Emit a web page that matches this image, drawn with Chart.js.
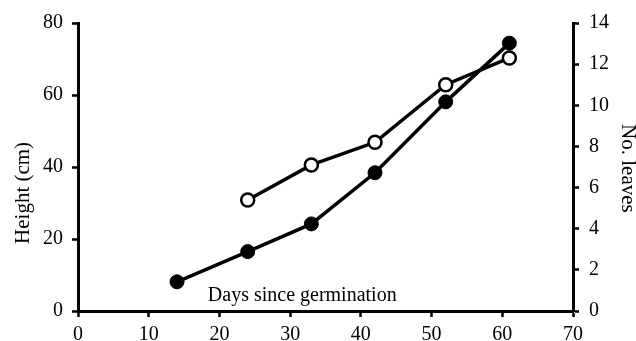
<!DOCTYPE html>
<html>
<head>
<meta charset="utf-8">
<script src="https://cdn.jsdelivr.net/npm/chart.js@4/dist/chart.umd.min.js"></script>
<style>
  html, body { margin: 0; padding: 0; background: #fff; }
  #c { display: block; }
</style>
</head>
<body>
<canvas id="c" width="636" height="341"></canvas>
<script>
// ---- data ----
const heightDays = [14, 24, 33, 42, 52, 61];
const heightCm   = [8.1, 16.5, 24.2, 38.4, 58.1, 74.4];
const leafDays   = [24, 33, 42, 52, 61];
const leafCount  = [5.4, 7.1, 8.2, 11.0, 12.3];
const xTicks      = [0, 10, 20, 30, 40, 50, 60, 70];
const heightTicks = [0, 20, 40, 60, 80];
const leafTicks   = [0, 2, 4, 6, 8, 10, 12, 14];
const xTitle = 'Days since germination';
const yTitleLeft = 'Height (cm)';
const yTitleRight = 'No. leaves';

const FONT = '"Liberation Serif", "Times New Roman", serif';
const tickFont = { family: FONT, size: 20 };

const titlesPlugin = {
  id: 'titles',
  afterDraw(chart) {
    const { ctx, chartArea: a } = chart;
    ctx.save();
    ctx.fillStyle = '#000';
    ctx.font = '20px ' + FONT;
    // x title inside plot, above the axis
    ctx.textAlign = 'center';
    ctx.textBaseline = 'alphabetic';
    ctx.fillText(xTitle, a.left + (a.right - a.left) * 0.453, a.bottom - 10);
    ctx.font = '21px ' + FONT;
    // left title
    ctx.save();
    ctx.translate(23, a.top + (a.bottom - a.top) * 0.59);
    ctx.rotate(-Math.PI / 2);
    ctx.textBaseline = 'middle';
    ctx.fillText(yTitleLeft, 0, 0);
    ctx.restore();
    // right title
    ctx.save();
    ctx.translate(a.right + 55, a.top + (a.bottom - a.top) * 0.505);
    ctx.rotate(Math.PI / 2);
    ctx.textBaseline = 'middle';
    ctx.fillText(yTitleRight, 0, 0);
    ctx.restore();
    ctx.restore();
  }
};

const axisCommon = {
  border: { display: true, color: '#000', width: 3 },
  grid: { display: true, drawOnChartArea: false, drawTicks: true, tickLength: 6, tickWidth: 2.5, tickColor: '#000' },
};

new Chart(document.getElementById('c'), {
  type: 'line',
  data: {
    datasets: [
      {
        label: yTitleRight,
        yAxisID: 'yR',
        data: leafDays.map((d, i) => ({ x: d, y: leafCount[i] })),
        borderColor: '#000',
        borderWidth: 3.5,
        pointRadius: 6.5,
        pointBorderWidth: 2.5,
        pointBackgroundColor: '#fff',
        pointBorderColor: '#000',
        tension: 0
      },
      {
        label: yTitleLeft,
        yAxisID: 'y',
        data: heightDays.map((d, i) => ({ x: d, y: heightCm[i] })),
        borderColor: '#000',
        borderWidth: 3.5,
        pointRadius: 7,
        pointBorderWidth: 1,
        pointBackgroundColor: '#000',
        pointBorderColor: '#000',
        tension: 0
      }
    ]
  },
  options: {
    responsive: false,
    animation: false,
    devicePixelRatio: 1,
    layout: { padding: { top: 23, left: 0, right: 0, bottom: 0 } },
    plugins: { legend: { display: false }, tooltip: { enabled: false } },
    scales: {
      x: {
        type: 'linear',
        min: 0, max: 70,
        afterBuildTicks: s => { s.ticks = xTicks.map(v => ({ value: v })); },
        afterFit: s => { s.height = 30; },
        ticks: { color: '#000', font: tickFont, padding: 6, maxRotation: 0 },
        ...axisCommon
      },
      y: {
        position: 'left',
        min: 0, max: 80,
        afterBuildTicks: s => { s.ticks = heightTicks.map(v => ({ value: v })); },
        afterFit: s => { s.width = 78; },
        ticks: { color: '#000', font: tickFont, padding: 9 },
        ...axisCommon
      },
      yR: {
        position: 'right',
        min: 0, max: 14,
        afterBuildTicks: s => { s.ticks = leafTicks.map(v => ({ value: v })); },
        afterFit: s => { s.width = 63; },
        ticks: { color: '#000', font: tickFont, padding: 10 },
        ...axisCommon
      }
    }
  },
  plugins: [titlesPlugin]
});
</script>
</body>
</html>
